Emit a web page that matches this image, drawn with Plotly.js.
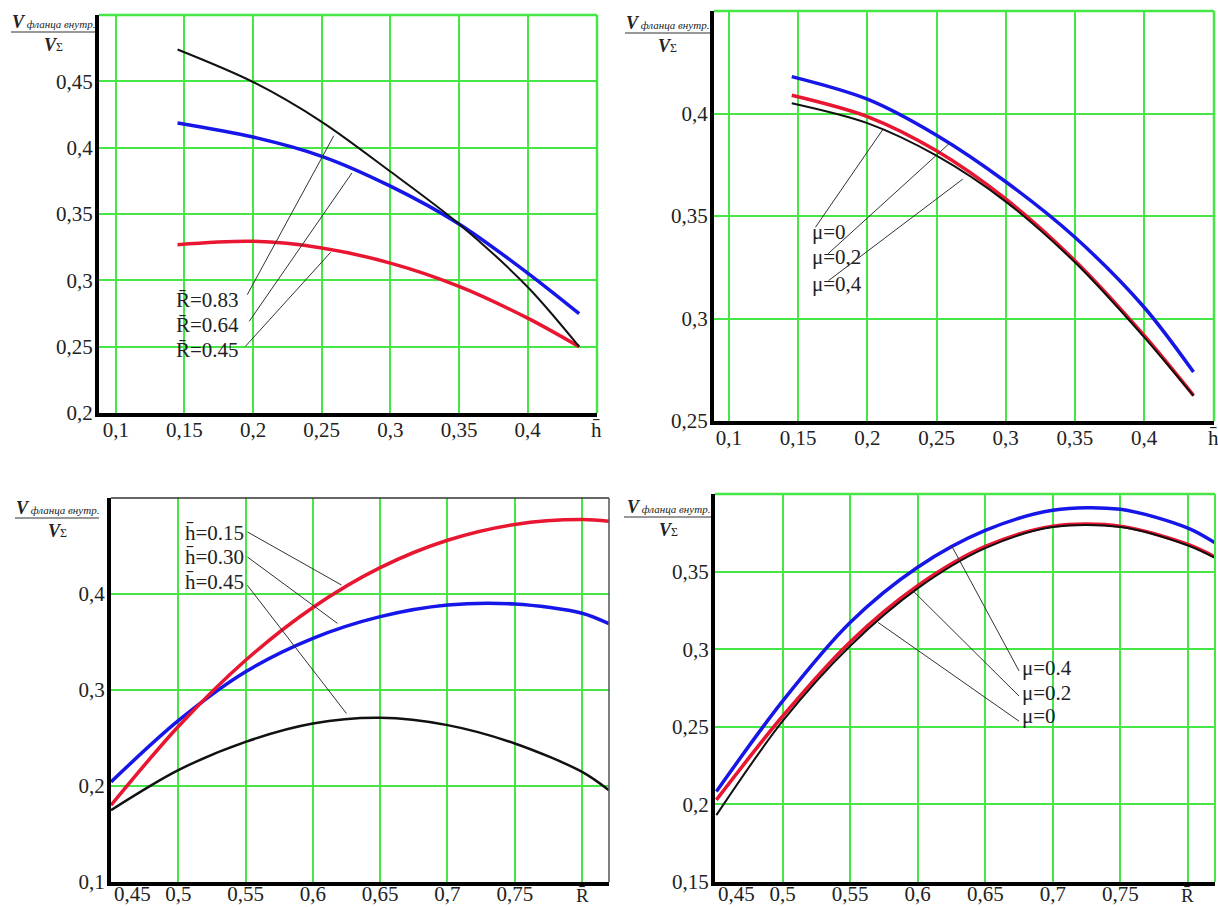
<!DOCTYPE html>
<html>
<head>
<meta charset="utf-8">
<script src="https://cdn.plot.ly/plotly-3.0.1.min.js"></script>
<style>html,body{margin:0;padding:0;background:#fff;}#chart{width:1218px;height:907px;}</style>
</head>
<body>
<div id="chart"></div>
<script>
// ---------- data ----------
// Panel 1 (top-left): V/VΣ vs h̄ for R̄ = 0.83, 0.64, 0.45
const p1_h = [0.145, 0.2, 0.25, 0.3, 0.35, 0.4, 0.4375];
const p1_R083 = [0.474, 0.4495, 0.4195, 0.382, 0.3425, 0.295, 0.25];
const p1_R064 = [0.4186, 0.408, 0.3935, 0.371, 0.3425, 0.3055, 0.2749];
const p1_R045 = [0.3269, 0.3294, 0.3244, 0.313, 0.2955, 0.2715, 0.25];

// Panel 2 (top-right): V/VΣ vs h̄ for μ = 0, 0.2, 0.4
const p2_h = [0.1454, 0.2, 0.25, 0.3, 0.35, 0.4, 0.4357];
const p2_mu04 = [0.418, 0.407, 0.3894, 0.3667, 0.3396, 0.3055, 0.2739];
const p2_mu02 = [0.4089, 0.3985, 0.3818, 0.3583, 0.3282, 0.2917, 0.2625];
const p2_mu0 = [0.405, 0.3953, 0.3794, 0.357, 0.3274, 0.2909, 0.2622];

// Panel 3 (bottom-left): V/VΣ vs R̄ for h̄ = 0.15, 0.30, 0.45
const p3_R = [0.45, 0.5, 0.55, 0.6, 0.65, 0.7, 0.75, 0.8, 0.82];
const p3_h015 = [0.18, 0.262, 0.331, 0.386, 0.4275, 0.456, 0.4725, 0.4775, 0.4758];
const p3_h030 = [0.2043, 0.268, 0.319, 0.3538, 0.3764, 0.3885, 0.3896, 0.38, 0.369];
const p3_h045 = [0.1748, 0.2165, 0.246, 0.2651, 0.271, 0.2634, 0.2443, 0.2147, 0.1956];

// Panel 4 (bottom-right): V/VΣ vs R̄ for μ = 0, 0.2, 0.4
const p4_R = [0.451, 0.5, 0.55, 0.6, 0.65, 0.7, 0.75, 0.8, 0.82];
const p4_mu04 = [0.2083, 0.2665, 0.3172, 0.3528, 0.3765, 0.3895, 0.3901, 0.378, 0.3685];
const p4_mu02 = [0.2029, 0.2568, 0.3047, 0.3409, 0.3662, 0.3793, 0.3793, 0.3675, 0.3595];
const p4_mu0 = [0.1931, 0.2536, 0.3021, 0.3392, 0.3651, 0.3787, 0.3787, 0.3668, 0.3588];

// tick labels
const hTickVals = [0.1, 0.15, 0.2, 0.25, 0.3, 0.35, 0.4, 0.45];
const hTickText = ['0,1', '0,15', '0,2', '0,25', '0,3', '0,35', '0,4', 'h\u0304'];
const RTickVals = [0.45, 0.5, 0.55, 0.6, 0.65, 0.7, 0.75, 0.8];
const RTickText = ['', '0,5', '0,55', '0,6', '0,65', '0,7', '0,75', ''];
const RFirstTick = '0,45';
const RAxisName = 'R\u0304';
const y1TickVals = [0.2, 0.25, 0.3, 0.35, 0.4, 0.45];
const y1TickText = ['0,2', '0,25', '0,3', '0,35', '0,4', '0,45'];
const y2TickVals = [0.25, 0.3, 0.35, 0.4];
const y2TickText = ['0,25', '0,3', '0,35', '0,4'];
const y3TickVals = [0.1, 0.2, 0.3, 0.4];
const y3TickText = ['0,1', '0,2', '0,3', '0,4'];
const y4TickVals = [0.15, 0.2, 0.25, 0.3, 0.35];
const y4TickText = ['0,15', '0,2', '0,25', '0,3', '0,35'];

const labels1 = ['R\u0304=0.83', 'R\u0304=0.64', 'R\u0304=0.45'];
const labels2 = ['\u03bc=0', '\u03bc=0,2', '\u03bc=0,4'];
const labels3 = ['h\u0304=0.15', 'h\u0304=0.30', 'h\u0304=0.45'];
const labels4 = ['\u03bc=0.4', '\u03bc=0.2', '\u03bc=0'];

// ---------- styling ----------
const W = 1218, H = 907;
const RED = 'rgb(232,22,48)', BLUE = 'rgb(22,22,232)', BLACK = '#111';
const GREEN = 'rgb(70,230,70)';
const FONT = '"Liberation Serif", "DejaVu Serif", serif';
const px = v => v / W;
const py = v => 1 - v / H;

function line(x, y, color, width, xa, ya) {
  return {x: x, y: y, xaxis: xa, yaxis: ya, type: 'scatter', mode: 'lines',
          line: {color: color, width: width, shape: 'spline', smoothing: 0.9},
          hoverinfo: 'skip', showlegend: false};
}

const traces = [
  line(p1_h, p1_R045, RED, 3.5, 'x', 'y'),
  line(p1_h, p1_R064, BLUE, 3.5, 'x', 'y'),
  line(p1_h, p1_R083, BLACK, 2, 'x', 'y'),

  line(p2_h, p2_mu04, BLUE, 3.5, 'x2', 'y2'),
  line(p2_h, p2_mu02, RED, 3.5, 'x2', 'y2'),
  line(p2_h, p2_mu0, BLACK, 2, 'x2', 'y2'),

  line(p3_R, p3_h045, BLACK, 2.5, 'x3', 'y3'),
  line(p3_R, p3_h030, BLUE, 3.5, 'x3', 'y3'),
  line(p3_R, p3_h015, RED, 3.5, 'x3', 'y3'),

  line(p4_R, p4_mu04, BLUE, 3.5, 'x4', 'y4'),
  line(p4_R, p4_mu02, RED, 3.5, 'x4', 'y4'),
  line(p4_R, p4_mu0, BLACK, 2, 'x4', 'y4')
];

function xax(domain, range, vals, text, anchor, standoff) {
  return {domain: domain, range: range, tickvals: vals, ticktext: text, anchor: anchor,
          showgrid: true, gridcolor: GREEN, gridwidth: 2, zeroline: false,
          showline: true, linecolor: '#000', linewidth: 4, ticks: '',
          ticklabelstandoff: standoff, ticklabeloverflow: 'allow',
          tickfont: {family: FONT, size: 21, color: '#222'}, fixedrange: true};
}
function yax(domain, range, vals, text, anchor) {
  return {domain: domain, range: range, tickvals: vals, ticktext: text, anchor: anchor,
          showgrid: true, gridcolor: GREEN, gridwidth: 2, zeroline: false,
          showline: true, linecolor: '#000', linewidth: 4, ticks: '',
          ticklabelstandoff: -2, ticklabeloverflow: 'allow',
          tickfont: {family: FONT, size: 21, color: '#222'}, fixedrange: true};
}

const layout = {
  width: W, height: H,
  margin: {l: 0, r: 0, t: 0, b: 0},
  paper_bgcolor: '#fff', plot_bgcolor: '#fff',
  font: {family: FONT},
  showlegend: false,
  xaxis:  xax([px(99), px(597)], [0.0878, 0.4505], hTickVals, hTickText, 'y', -5),
  yaxis:  yax([py(413), py(15)], [0.2, 0.5], y1TickVals, y1TickText, 'x'),
  xaxis2: xax([px(714), px(1214)], [0.0892, 0.4505], hTickVals, hTickText, 'y2', -5),
  yaxis2: yax([py(421), py(11)], [0.25, 0.45], y2TickVals, y2TickText, 'x2'),
  xaxis3: xax([px(111), px(609)], [0.45, 0.82], RTickVals, RTickText, 'y3', -10),
  yaxis3: yax([py(882), py(498)], [0.1, 0.5], y3TickVals, y3TickText, 'x3'),
  xaxis4: xax([px(715), px(1215)], [0.45, 0.82], RTickVals, RTickText, 'y4', -10),
  yaxis4: yax([py(882), py(494)], [0.15, 0.4], y4TickVals, y4TickText, 'x4'),
  shapes: [],
  annotations: []
};

// first R̄ tick label (left-aligned at the axis) and the axis name R̄ at the last grid line
['x3', 'x4'].forEach(xr => {
  layout.annotations.push({xref: xr, yref: 'paper', x: RTickVals[0], y: py(894), text: RFirstTick,
    showarrow: false, xanchor: 'left', yanchor: 'middle', xshift: 1,
    font: {family: FONT, size: 21, color: '#222'}});
  layout.annotations.push({xref: xr, yref: 'paper', x: RTickVals[RTickVals.length - 1], y: py(895),
    text: RAxisName, showarrow: false, xanchor: 'center', yanchor: 'middle',
    font: {family: FONT, size: 19, color: '#222'}});
});

// borders (top / right)
function border(xr, yr, x0, y0, x1, y1, color, w) {
  layout.shapes.push({type: 'line', xref: xr, yref: yr, x0: x0, y0: y0, x1: x1, y1: y1,
                      line: {color: color, width: w}, layer: 'above'});
}
border('x domain', 'y domain', 0, 1, 1, 1, GREEN, 2.5);
border('x domain', 'y domain', 1, 0, 1, 1, GREEN, 2.5);
border('x2 domain', 'y2 domain', 0, 1, 1, 1, GREEN, 2.5);
border('x2 domain', 'y2 domain', 1, 0, 1, 1, GREEN, 2.5);
border('x3 domain', 'y3 domain', 0, 1, 1, 1, '#333', 1.5);
border('x3 domain', 'y3 domain', 1, 0, 1, 1, '#555', 1.5);
border('x4 domain', 'y4 domain', 0, 1, 1, 1, GREEN, 2.5);
border('x4 domain', 'y4 domain', 1, 0, 1, 1, GREEN, 2);

// leader lines
function leader(xr, yr, x0, y0, x1, y1) {
  layout.shapes.push({type: 'line', xref: xr, yref: yr, x0: x0, y0: y0, x1: x1, y1: y1,
                      line: {color: '#333', width: 1}, layer: 'above'});
}
leader('x', 'y', 0.1958, 0.2892, 0.2588, 0.409);
leader('x', 'y', 0.1972, 0.2691, 0.272, 0.3809);
leader('x', 'y', 0.1944, 0.2502, 0.2565, 0.3211);

leader('x2', 'y2', 0.1625, 0.3445, 0.211, 0.392);
leader('x2', 'y2', 0.1715, 0.3315, 0.2596, 0.3856);
leader('x2', 'y2', 0.172, 0.3185, 0.269, 0.368);

leader('x3', 'y3', 0.5513, 0.4647, 0.6212, 0.4094);
leader('x3', 'y3', 0.5513, 0.4386, 0.6183, 0.3694);
leader('x3', 'y3', 0.5513, 0.4091, 0.6249, 0.2756);

leader('x4', 'y4', 0.6750, 0.2860, 0.625, 0.3668);
leader('x4', 'y4', 0.6750, 0.2698, 0.5964, 0.3377);
leader('x4', 'y4', 0.6750, 0.2536, 0.5707, 0.3172);

// curve labels
function labelStack(xr, yr, x, ys, texts) {
  texts.forEach((t, i) => {
    layout.annotations.push({xref: xr, yref: yr, x: x, y: ys[i], text: t, showarrow: false,
      xanchor: 'left', yanchor: 'middle', font: {family: FONT, size: 21, color: '#222'}});
  });
}
labelStack('x', 'y', 0.1425, [0.2854, 0.2666, 0.2477], labels1);
labelStack('x2', 'y2', 0.1585, [0.342, 0.33, 0.3169], labels2);
labelStack('x3', 'y3', 0.5035, [0.4633, 0.4389, 0.4129], labels3);
labelStack('x4', 'y4', 0.6755, [0.2881, 0.2719, 0.2568], labels4);

// y-axis fraction labels
function fraction(cx, lineY, x0, x1) {
  layout.annotations.push({xref: 'paper', yref: 'paper', x: px(cx), y: py(lineY - 10),
    text: '<b><i>V</i></b><span style="font-size:11px"><i> фланца внутр.</i></span>', showarrow: false,
    xanchor: 'center', yanchor: 'middle', font: {family: FONT, size: 18, color: '#222'}});
  layout.annotations.push({xref: 'paper', yref: 'paper', x: px(cx), y: py(lineY + 13),
    text: '<b><i>V</i></b><span style="font-size:12px">Σ</span>', showarrow: false,
    xanchor: 'center', yanchor: 'middle', font: {family: FONT, size: 18, color: '#222'}});
  layout.shapes.push({type: 'line', xref: 'paper', yref: 'paper', x0: px(x0), x1: px(x1),
    y0: py(lineY), y1: py(lineY), line: {color: '#333', width: 1}});
}
fraction(53, 32, 11, 95);
fraction(667, 33, 625, 710);
fraction(57, 518, 15, 99);
fraction(668, 517, 624, 711);

Plotly.newPlot('chart', traces, layout, {staticPlot: true, displayModeBar: false});
</script>
</body>
</html>
